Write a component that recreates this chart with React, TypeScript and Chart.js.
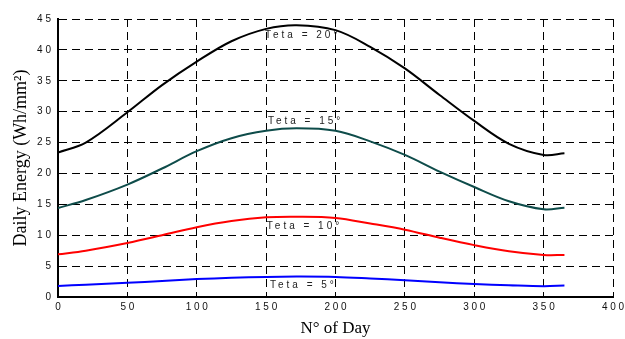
import React, { useEffect, useRef } from "react";
import { Chart, registerables } from "chart.js";

Chart.register(...registerables);

const days = [0, 20, 50, 75, 100, 125, 150, 172, 200, 225, 250, 275, 300, 325, 350, 365];
const teta20 = [23.4, 25.0, 29.9, 34.3, 38.1, 41.4, 43.4, 44.0, 43.2, 40.5, 37.0, 32.7, 28.5, 24.8, 23.0, 23.25];
const teta15 = [14.4, 15.7, 18.2, 20.8, 23.6, 25.7, 26.9, 27.3, 26.9, 25.2, 23.0, 20.3, 17.8, 15.5, 14.2, 14.45];
const teta10 = [6.9, 7.5, 8.75, 10.0, 11.3, 12.3, 12.9, 13.0, 12.8, 11.9, 10.9, 9.6, 8.4, 7.4, 6.8, 6.8];
const teta5 = [1.8, 2.0, 2.3, 2.6, 2.9, 3.1, 3.25, 3.3, 3.25, 3.0, 2.7, 2.4, 2.1, 1.9, 1.75, 1.85];

const seriesNames = ["Teta = 20°", "Teta = 15°", "Teta = 10°", "Teta = 5°"];
const seriesColors = ["#000000", "#0e4c4a", "#ff0000", "#0000ff"];
const labelX = [149.2, 151.3, 150.5, 152.8];
const labelY = [42.4, 28.5, 11.5, 1.95];

const spaced = (v: number) => String(v).split("").join(" ");

const labelPlugin = {
  id: "tetaLabels",
  beforeDraw(chart: any) {
    const { ctx, scales } = chart;
    const x = scales.x;
    const y = scales.y;
    ctx.save();
    ctx.font = '10px "Liberation Sans", Arial, sans-serif';
    ctx.fillStyle = "#222";
    ctx.textBaseline = "middle";
    ctx.textAlign = "left";
    (ctx as any).letterSpacing = "3px";
    seriesNames.forEach((t, i) => {
      ctx.fillText(t, x.getPixelForValue(labelX[i]), y.getPixelForValue(labelY[i]));
    });
    ctx.restore();
  },
};

export default function App() {
  const ref = useRef<HTMLCanvasElement | null>(null);
  useEffect(() => {
    if (!ref.current) return;
    const all = [teta20, teta15, teta10, teta5];
    const chart = new Chart(ref.current, {
      type: "line",
      data: {
        datasets: all.map((vals, i) => ({
          label: seriesNames[i],
          data: days.map((d, j) => ({ x: d, y: vals[j] })),
          borderColor: seriesColors[i],
          borderWidth: 2,
          pointRadius: 0,
          tension: 0.35,
          fill: false,
        })),
      },
      options: {
        animation: false,
        responsive: true,
        maintainAspectRatio: false,
        layout: { padding: { top: 19, right: 0, left: 10, bottom: 0 } },
        plugins: { legend: { display: false }, tooltip: { enabled: false } },
        scales: {
          x: {
            type: "linear",
            min: 0,
            max: 400,
            ticks: {
              stepSize: 50,
              color: "#111",
              font: { family: '"Liberation Sans", Arial, sans-serif', size: 10 },
              padding: 4,
              maxRotation: 0,
              callback: (v: any) => spaced(v),
            },
            grid: { color: "#000", lineWidth: 1, drawTicks: false },
            border: { display: true, color: "#000", width: 2, dash: [8, 5] },
            title: {
              display: true,
              text: "N° of Day",
              color: "#000",
              font: { family: '"Liberation Serif", "Times New Roman", serif', size: 17 },
              padding: { top: 3, bottom: 0 },
            },
            afterFit: (s: any) => {
              s.height = 42;
              s.paddingRight = 12;
            },
          },
          y: {
            min: 0,
            max: 45,
            ticks: {
              stepSize: 5,
              color: "#111",
              font: { family: '"Liberation Sans", Arial, sans-serif', size: 10 },
              padding: 7,
              callback: (v: any) => spaced(v),
            },
            grid: { color: "#000", lineWidth: 1, drawTicks: false },
            border: { display: true, color: "#000", width: 2, dash: [8, 5] },
            title: {
              display: true,
              text: "Daily Energy (Wh/mm²)",
              color: "#000",
              font: { family: '"Liberation Serif", "Times New Roman", serif', size: 18 },
              padding: { top: 0, bottom: 2 },
            },
            afterFit: (s: any) => {
              s.width = 48;
            },
          },
        },
      },
      plugins: [labelPlugin],
    });
    return () => chart.destroy();
  }, []);
  return (
    <div style={{ position: "fixed", left: 0, top: 0, width: 625, height: 339, background: "#fff" }}>
      <canvas ref={ref} />
    </div>
  );
}
